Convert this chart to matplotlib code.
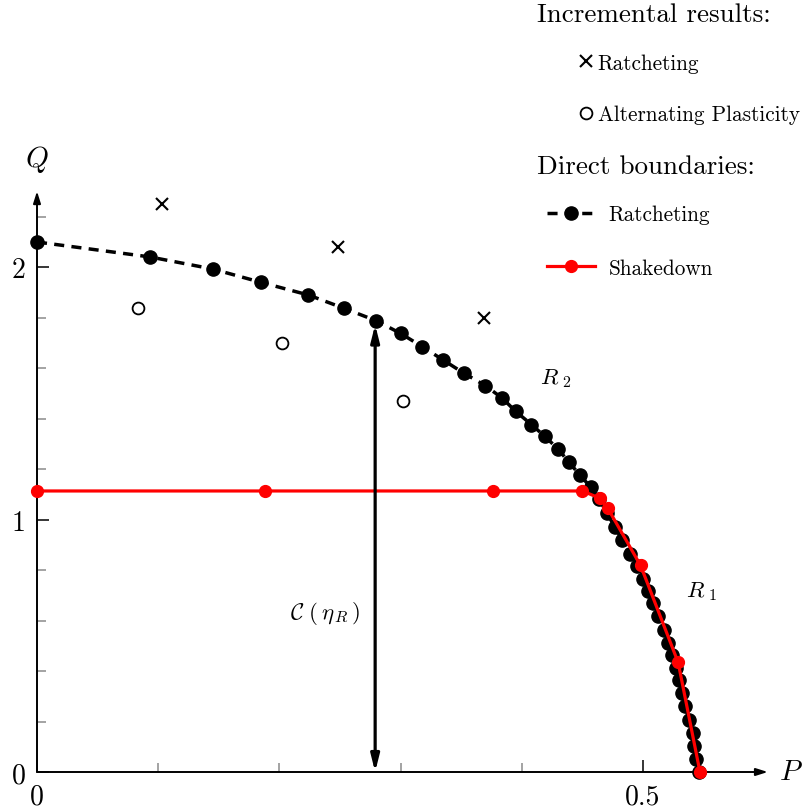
import matplotlib
matplotlib.use("Agg")
import matplotlib.pyplot as plt
from matplotlib.lines import Line2D

plt.rcParams["font.family"] = "serif"
plt.rcParams["font.serif"] = ["cmr10"]
plt.rcParams["mathtext.fontset"] = "cm"
plt.rcParams["axes.formatter.use_mathtext"] = True

# Direct ratcheting boundary (P, Q)
rat_P = [0.000, 0.093, 0.145, 0.185, 0.224, 0.253, 0.280, 0.300, 0.318, 0.335,
         0.352, 0.370, 0.384, 0.395, 0.408, 0.419, 0.430, 0.439, 0.448, 0.457,
         0.464, 0.470, 0.477, 0.483, 0.489, 0.495, 0.500, 0.504, 0.508, 0.512,
         0.517, 0.521, 0.524, 0.527, 0.530, 0.532, 0.535, 0.538, 0.541, 0.542,
         0.544, 0.546]
rat_Q = [2.099, 2.040, 1.992, 1.939, 1.889, 1.837, 1.787, 1.737, 1.684, 1.632,
         1.580, 1.530, 1.480, 1.428, 1.376, 1.329, 1.279, 1.226, 1.176, 1.127,
         1.081, 1.027, 0.969, 0.917, 0.863, 0.817, 0.764, 0.718, 0.669, 0.616,
         0.564, 0.511, 0.465, 0.412, 0.366, 0.313, 0.260, 0.207, 0.156, 0.103,
         0.051, 0.000]

# Direct shakedown boundary
sd_P = [0.000, 0.188, 0.376, 0.450, 0.4645, 0.471, 0.498, 0.529, 0.547]
sd_Q = [1.113, 1.113, 1.113, 1.113, 1.084, 1.044, 0.818, 0.434, 0.000]

# Incremental analyses
inc_rat_P = [0.103, 0.248, 0.369]
inc_rat_Q = [2.249, 2.078, 1.798]
inc_alt_P = [0.0836, 0.202, 0.302]
inc_alt_Q = [1.836, 1.698, 1.470]

# Load factor arrow
eta_P = 0.279
eta_Q = 1.772

dash = (0, (2.9, 2.1))

fig = plt.figure(figsize=(8.03, 8.12), dpi=100)
ax = fig.add_axes([37 / 803, 39 / 812, 0.62 * 1212 / 803, 2.45 * 252.5 / 812])
ax.set_xlim(0, 0.62)
ax.set_ylim(0, 2.45)
for s in ax.spines.values():
    s.set_visible(False)

# axes drawn as arrows
arr = dict(arrowstyle="-|>,head_length=0.7,head_width=0.22", lw=1.4, color="black",
           shrinkA=0, shrinkB=0)
ax.annotate("", xy=(0.603, 0), xytext=(0, 0), arrowprops=arr, annotation_clip=False)
ax.annotate("", xy=(0, 2.30), xytext=(0, 0), arrowprops=arr, annotation_clip=False)

ax.set_xticks([0, 0.5])
ax.set_xticklabels(["0", "0.5"])
ax.set_xticks([0.1, 0.2, 0.3, 0.4], minor=True)
ax.set_yticks([0, 1, 2])
ax.set_yticklabels(["0", "1", "2"])
ax.set_yticks([0.2, 0.4, 0.6, 0.8, 1.2, 1.4, 1.6, 1.8, 2.2], minor=True)
ax.tick_params(which="major", direction="in", length=8.5, width=1.1, color="black",
               labelsize=20, pad=8)
ax.tick_params(which="minor", direction="in", length=6.5, width=1.1, color="#8a8a8a")

ax.text(0.0, 2.43, "$Q$", fontsize=21, ha="center", va="center")
ax.text(0.622, 0.0, "$P$", fontsize=21, ha="center", va="center")

ax.plot(rat_P, rat_Q, color="black", lw=2.5, ls=dash, marker="o",
        ms=9.5, clip_on=False, zorder=3, label="Ratcheting")
ax.plot(sd_P, sd_Q, color="red", lw=2.3, marker="o", ms=8.5, clip_on=False,
        zorder=4, label="Shakedown")
ax.plot(inc_rat_P, inc_rat_Q, ls="none", marker="x", ms=9, mew=1.5, color="black",
        label="Ratcheting")
ax.plot(inc_alt_P, inc_alt_Q, ls="none", marker="o", ms=8.5, mew=1.3, mfc="white",
        mec="black", label="Alternating Plasticity")

ax.annotate("", xy=(eta_P, eta_Q), xytext=(eta_P, 0),
            arrowprops=dict(arrowstyle="<|-|>,head_length=1.0,head_width=0.25",
                            lw=2.3, color="black", shrinkA=0, shrinkB=0),
            zorder=5)
ax.text(0.2375, 0.63, r"$\mathcal{C}\ (\,\eta_{\,R}\,)$", fontsize=16.5,
        ha="center", va="center")
ax.text(0.428, 1.564, r"$R_{\ 2}$", fontsize=16.5, ha="center", va="center")
ax.text(0.548, 0.717, r"$R_{\ 1}$", fontsize=16.5, ha="center", va="center")

# legend groups with their headings
fig.text(537 / 803, 1 - 15 / 812, "Incremental results:", fontsize=19.5,
         ha="left", va="center")
fig.text(537 / 803, 1 - 167 / 812, "Direct boundaries:", fontsize=19.5,
         ha="left", va="center")

h_inc = [Line2D([], [], ls="none", marker="x", ms=9, mew=1.5, color="black"),
         Line2D([], [], ls="none", marker="o", ms=8.5, mew=1.3, mfc="white", mec="black")]
leg1 = fig.legend(h_inc, ["Ratcheting", "Alternating Plasticity"],
                  loc="center left", bbox_to_anchor=(576 / 803, 1 - 89.5 / 812),
                  frameon=False, fontsize=15.3, borderpad=0, borderaxespad=0,
                  handlelength=0.9, handletextpad=0.12, labelspacing=1.5)
h_dir = [Line2D([], [], color="black", lw=2.5, ls=dash, marker="o", ms=9.5),
         Line2D([], [], color="red", lw=2.3, marker="o", ms=8.5)]
leg2 = fig.legend(h_dir, ["Ratcheting", "Shakedown"],
                  loc="center left", bbox_to_anchor=(547 / 803, 1 - 242 / 812),
                  frameon=False, fontsize=15.3, borderpad=0, borderaxespad=0,
                  handlelength=2.25, handletextpad=0.65, labelspacing=1.6)

fig.savefig("out.png", dpi=100)
